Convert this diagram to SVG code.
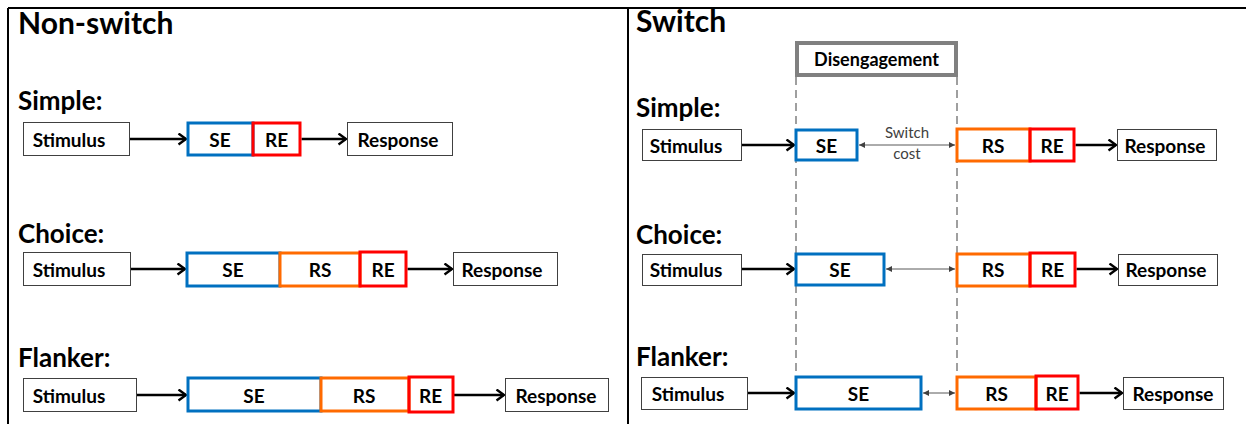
<svg xmlns="http://www.w3.org/2000/svg" width="1246" height="424" viewBox="0 0 1246 424">
  <style>
    .title { font-family: Lato, "Liberation Sans", sans-serif; font-weight: 700; font-size: 30px; fill: #000; }
    .section { font-family: Lato, "Liberation Sans", sans-serif; font-weight: 700; font-size: 26px; fill: #000; }
    .lbl { font-family: Lato, "Liberation Sans", sans-serif; font-weight: 700; font-size: 19px; fill: #000; text-anchor: middle; dominant-baseline: central; }
    .small { font-family: Lato, "Liberation Sans", sans-serif; font-size: 15px; fill: #404040; text-anchor: middle; }
    .plain { fill: #fff; stroke: #404040; stroke-width: 1; }
    .se { fill: #fff; stroke: #0070C0; stroke-width: 3; }
    .rs { fill: #fff; stroke: #FF6A00; stroke-width: 3; }
    .re { fill: none; stroke: #FF0000; stroke-width: 3; }
    .flow { stroke: #000; stroke-width: 2.5; fill: none; marker-end: url(#chev); }
    .cost { stroke: #595959; stroke-width: 1; fill: none; marker-start: url(#tri); marker-end: url(#tri); }
    .frame { stroke: #000; stroke-width: 2; fill: none; }
    .phase { stroke: #808080; stroke-width: 1.5; stroke-dasharray: 8 5; fill: none; }
  </style>
  <defs>
    <marker id="chev" markerUnits="userSpaceOnUse" markerWidth="13" markerHeight="13" refX="11" refY="6.5" orient="auto">
      <path d="M3.5,1 L11,6.5 L3.5,12" fill="none" stroke="#000" stroke-width="2.4"/>
    </marker>
    <marker id="tri" markerUnits="userSpaceOnUse" markerWidth="8" markerHeight="8" refX="6" refY="4" orient="auto-start-reverse">
      <path d="M0,1 L6,4 L0,7 Z" fill="#404040"/>
    </marker>
  </defs>

  <rect width="1246" height="424" fill="#fff"/>

  <!-- panel frame -->
  <g id="frame">
    <path class="frame" d="M8,8 H1246 M8,8 V424 M628,8 V424"/>
  </g>

  <!-- headings -->
  <g id="headings">
    <text class="title" x="18" y="34">Non-switch</text>
    <text class="title" x="636" y="32">Switch</text>
    <text class="section" x="18" y="110">Simple:</text>
    <text class="section" x="18" y="243">Choice:</text>
    <text class="section" x="18" y="367">Flanker:</text>
    <text class="section" x="636" y="117">Simple:</text>
    <text class="section" x="636" y="244">Choice:</text>
    <text class="section" x="636" y="366">Flanker:</text>
  </g>

  <!-- disengagement phase -->
  <g id="disengagement">
    <rect x="797" y="43" width="159" height="32" fill="#fff" stroke="#808080" stroke-width="4"/>
    <text class="lbl" x="876.5" y="58.5" style="font-size:18px">Disengagement</text>
    <path class="phase" d="M796,77 V374 M957,77 V374"/>
  </g>

  <!-- connectors -->
  <g id="connectors">
    <!-- non-switch -->
    <line class="flow" x1="130" y1="139" x2="186" y2="139"/>
    <line class="flow" x1="301.5" y1="139" x2="346" y2="139"/>
    <line class="flow" x1="131" y1="269" x2="185" y2="269"/>
    <line class="flow" x1="407.5" y1="269" x2="452" y2="269"/>
    <line class="flow" x1="137" y1="395" x2="186" y2="395"/>
    <line class="flow" x1="454" y1="395" x2="504" y2="395"/>
    <!-- switch -->
    <line class="flow" x1="742" y1="145" x2="794" y2="145"/>
    <line class="cost" x1="859" y1="145" x2="955" y2="145"/>
    <line class="flow" x1="1075.5" y1="145" x2="1116" y2="145"/>
    <line class="flow" x1="742" y1="269" x2="794" y2="269"/>
    <line class="cost" x1="886" y1="269" x2="955" y2="269"/>
    <line class="flow" x1="1076.5" y1="269" x2="1117" y2="269"/>
    <line class="flow" x1="748" y1="393" x2="794" y2="393"/>
    <line class="cost" x1="923" y1="393" x2="955" y2="393"/>
    <line class="flow" x1="1079.5" y1="393" x2="1122" y2="393"/>
    <text class="small" x="907" y="138">Switch</text>
    <text class="small" x="907" y="159">cost</text>
  </g>

  <!-- non-switch: simple -->
  <g id="ns-simple-stimulus"><rect class="plain" x="23.5" y="122.5" width="106" height="33"/><text class="lbl" x="69" y="139">Stimulus</text></g>
  <g id="ns-simple-se"><rect class="se" x="188" y="123" width="65" height="32"/><text class="lbl" x="220" y="139">SE</text></g>
  <g id="ns-simple-re"><rect class="re" x="253" y="123" width="47" height="32"/><text class="lbl" x="276.5" y="139">RE</text></g>
  <g id="ns-simple-response"><rect class="plain" x="347.5" y="122.5" width="105" height="33"/><text class="lbl" x="398" y="139">Response</text></g>

  <!-- non-switch: choice -->
  <g id="ns-choice-stimulus"><rect class="plain" x="23.5" y="252.5" width="107" height="33"/><text class="lbl" x="69" y="269">Stimulus</text></g>
  <g id="ns-choice-se"><rect class="se" x="187" y="253" width="93" height="33"/><text class="lbl" x="233" y="269">SE</text></g>
  <g id="ns-choice-rs"><rect class="rs" x="280" y="253" width="80" height="33"/><text class="lbl" x="320" y="269">RS</text></g>
  <g id="ns-choice-re"><rect class="re" x="360" y="252" width="46" height="34"/><text class="lbl" x="383" y="269">RE</text></g>
  <g id="ns-choice-response"><rect class="plain" x="453.5" y="252.5" width="104" height="33"/><text class="lbl" x="502" y="269">Response</text></g>

  <!-- non-switch: flanker -->
  <g id="ns-flanker-stimulus"><rect class="plain" x="23.5" y="378.5" width="113" height="33"/><text class="lbl" x="69" y="395">Stimulus</text></g>
  <g id="ns-flanker-se"><rect class="se" x="188" y="378" width="133" height="33"/><text class="lbl" x="254" y="395">SE</text></g>
  <g id="ns-flanker-rs"><rect class="rs" x="321" y="378" width="88" height="33"/><text class="lbl" x="364" y="395">RS</text></g>
  <g id="ns-flanker-re"><rect class="re" x="409" y="377" width="44" height="35"/><text class="lbl" x="430.5" y="395">RE</text></g>
  <g id="ns-flanker-response"><rect class="plain" x="505.5" y="378.5" width="103" height="33"/><text class="lbl" x="556" y="395">Response</text></g>

  <!-- switch: simple -->
  <g id="sw-simple-stimulus"><rect class="plain" x="642.5" y="129.5" width="99" height="31"/><text class="lbl" x="686" y="145">Stimulus</text></g>
  <g id="sw-simple-se"><rect class="se" x="796" y="130" width="61" height="30"/><text class="lbl" x="826.5" y="145">SE</text></g>
  <g id="sw-simple-rs"><rect class="rs" x="957" y="129" width="73" height="32"/><text class="lbl" x="993" y="145">RS</text></g>
  <g id="sw-simple-re"><rect class="re" x="1030" y="129" width="44" height="32"/><text class="lbl" x="1052" y="145">RE</text></g>
  <g id="sw-simple-response"><rect class="plain" x="1117.5" y="129.5" width="99" height="31"/><text class="lbl" x="1165" y="145">Response</text></g>

  <!-- switch: choice -->
  <g id="sw-choice-stimulus"><rect class="plain" x="642.5" y="254.5" width="99" height="31"/><text class="lbl" x="686" y="269.5">Stimulus</text></g>
  <g id="sw-choice-se"><rect class="se" x="796" y="254" width="88" height="31"/><text class="lbl" x="840" y="269.5">SE</text></g>
  <g id="sw-choice-rs"><rect class="rs" x="957" y="254" width="73" height="32"/><text class="lbl" x="993" y="269.5">RS</text></g>
  <g id="sw-choice-re"><rect class="re" x="1030" y="253" width="45" height="33"/><text class="lbl" x="1052.5" y="269.5">RE</text></g>
  <g id="sw-choice-response"><rect class="plain" x="1118.5" y="254.5" width="99" height="31"/><text class="lbl" x="1166" y="269.5">Response</text></g>

  <!-- switch: flanker -->
  <g id="sw-flanker-stimulus"><rect class="plain" x="641.5" y="377.5" width="106" height="32"/><text class="lbl" x="688" y="393">Stimulus</text></g>
  <g id="sw-flanker-se"><rect class="se" x="796" y="377" width="125" height="32"/><text class="lbl" x="858.5" y="393">SE</text></g>
  <g id="sw-flanker-rs"><rect class="rs" x="957" y="377" width="79" height="32"/><text class="lbl" x="996.5" y="393">RS</text></g>
  <g id="sw-flanker-re"><rect class="re" x="1036" y="376" width="42" height="33"/><text class="lbl" x="1057" y="393">RE</text></g>
  <g id="sw-flanker-response"><rect class="plain" x="1123.5" y="377.5" width="100" height="32"/><text class="lbl" x="1173" y="393">Response</text></g>
</svg>
